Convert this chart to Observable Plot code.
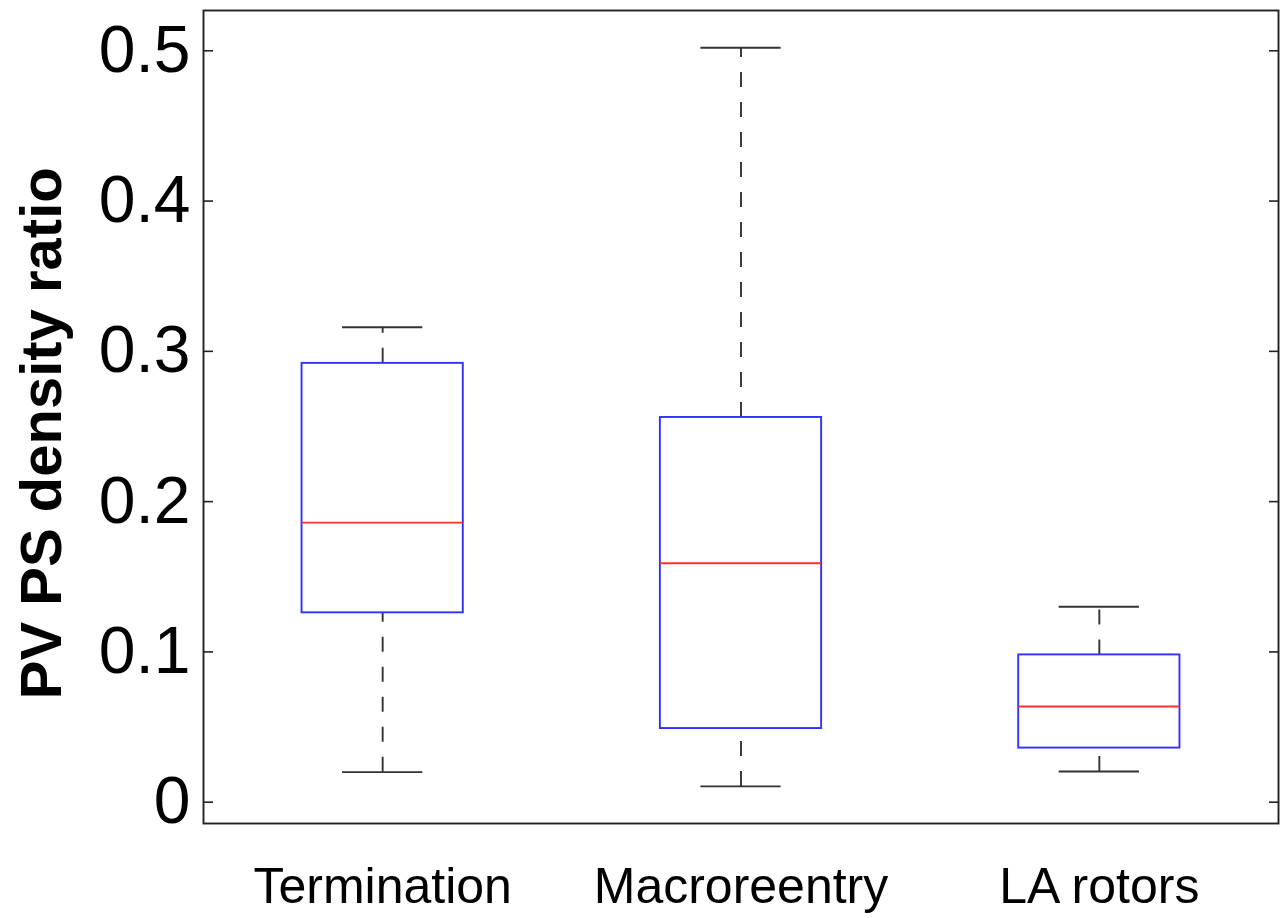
<!DOCTYPE html>
<html>
<head>
<meta charset="utf-8">
<script src="https://cdn.jsdelivr.net/npm/d3@7"></script>
<script src="https://cdn.jsdelivr.net/npm/@observablehq/plot@0.6"></script>
<style>
  html, body { margin: 0; padding: 0; background: #fff; }
  #chart svg { display: block; }
</style>
</head>
<body>
<div id="chart"></div>
<script>
const categories = ["Termination", "Macroreentry", "LA rotors"];
const lowerWhisker = [0.020, 0.0105, 0.0204];
const q1 = [0.126, 0.049, 0.036];
const median = [0.186, 0.159, 0.0637];
const q3 = [0.292, 0.256, 0.098];
const upperWhisker = [0.316, 0.502, 0.130];
const yTicks = [0, 0.1, 0.2, 0.3, 0.4, 0.5];
const yTickLabels = ["0", "0.1", "0.2", "0.3", "0.4", "0.5"];
const yLabel = "PV PS density ratio";

const boxes = categories.map((c, i) => ({
  pos: i + 1, name: c,
  lo: lowerWhisker[i], q1: q1[i], med: median[i], q3: q3[i], hi: upperWhisker[i]
}));

const halfBox = 0.225;
const halfCap = 0.112;
const font = "'Liberation Sans', Arial, Helvetica, sans-serif";

const chart = Plot.plot({
  width: 1285,
  height: 918,
  marginLeft: 203,
  marginRight: 7,
  marginTop: 10,
  marginBottom: 95,
  style: { fontFamily: font, background: "#fff", color: "#000" },
  x: { domain: [0.5, 3.5] },
  y: { domain: [-0.01418, 0.5268] },
  marks: [
    Plot.ruleX(boxes, { x: "pos", y1: "lo", y2: "q1", stroke: "#333", strokeWidth: 1.9, strokeDasharray: "15,15" }),
    Plot.ruleX(boxes, { x: "pos", y1: "q3", y2: "hi", stroke: "#333", strokeWidth: 1.9, strokeDasharray: "15,15" }),
    Plot.ruleY(boxes, { y: "lo", x1: d => d.pos - halfCap, x2: d => d.pos + halfCap, stroke: "#333", strokeWidth: 1.9 }),
    Plot.ruleY(boxes, { y: "hi", x1: d => d.pos - halfCap, x2: d => d.pos + halfCap, stroke: "#333", strokeWidth: 1.9 }),
    Plot.rect(boxes, { x1: d => d.pos - halfBox, x2: d => d.pos + halfBox, y1: "q1", y2: "q3", fill: "none", stroke: "#3030ff", strokeWidth: 1.9 }),
    Plot.ruleY(boxes, { y: "med", x1: d => d.pos - halfBox, x2: d => d.pos + halfBox, stroke: "#ff3030", strokeWidth: 1.9 }),
    Plot.axisY({ anchor: "left", ticks: yTicks, tickFormat: d => yTickLabels[yTicks.indexOf(d)], tickSize: 0, tickPadding: 13, fontSize: 66, label: null }),
    Plot.axisY({ anchor: "left", ticks: yTicks, text: null, tickSize: 10, dx: 10, stroke: "#222", strokeWidth: 1.6, label: null }),
    Plot.axisY({ anchor: "right", ticks: yTicks, text: null, tickSize: 10, dx: -10, stroke: "#222", strokeWidth: 1.6, label: null }),
    Plot.axisX({ ticks: [1, 2, 3], tickFormat: d => categories[d - 1], tickSize: 0, tickPadding: 44, fontSize: 50, label: null }),
    Plot.text([yLabel], { frameAnchor: "left", y: () => 0.2455, text: d => d, rotate: -90, textAnchor: "middle", lineAnchor: "bottom", dx: -143, fontSize: 58, fontWeight: "bold", fill: "#000" }),
    Plot.frame({ stroke: "#222", strokeWidth: 1.9 })
  ]
});

document.getElementById("chart").appendChild(chart);
</script>
</body>
</html>
